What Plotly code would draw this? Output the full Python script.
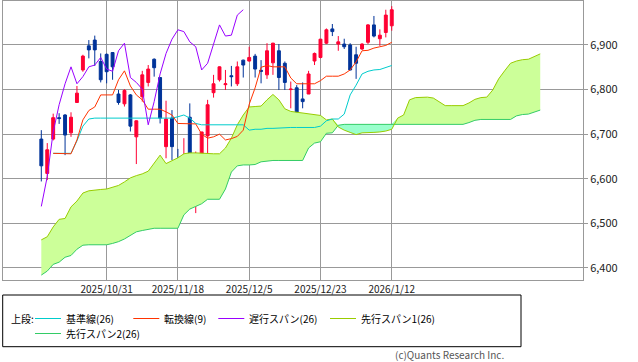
import plotly.graph_objects as go

# ---- data ----
dates = [
    "2025-10-16", "2025-10-17", "2025-10-20", "2025-10-21", "2025-10-22", "2025-10-23", "2025-10-24",
    "2025-10-27", "2025-10-28", "2025-10-29", "2025-10-30", "2025-10-31",
    "2025-11-03", "2025-11-04", "2025-11-05", "2025-11-06", "2025-11-07", "2025-11-10", "2025-11-11",
    "2025-11-12", "2025-11-13", "2025-11-14", "2025-11-17", "2025-11-18", "2025-11-19", "2025-11-20",
    "2025-11-21", "2025-11-24", "2025-11-25", "2025-11-26", "2025-11-28",
    "2025-12-01", "2025-12-02", "2025-12-03", "2025-12-04", "2025-12-05", "2025-12-08", "2025-12-09",
    "2025-12-10", "2025-12-11", "2025-12-12", "2025-12-15", "2025-12-16", "2025-12-17", "2025-12-18",
    "2025-12-19", "2025-12-22", "2025-12-23", "2025-12-24", "2025-12-26", "2025-12-29", "2025-12-30",
    "2025-12-31", "2026-01-02", "2026-01-05", "2026-01-06", "2026-01-07", "2026-01-08", "2026-01-09",
    "2026-01-12",
]
open_ = [6689, 6612, 6689, 6737, 6743, 6703, 6771, 6844, 6898, 6911, 6863, 6879, 6883, 6790, 6768,
         6788, 6694, 6784, 6816, 6868, 6827, 6672, 6736, 6642, 6625, 6738, 6555, 6635, 6696, 6793,
         6822, 6811, 6831, 6813, 6866, 6864, 6875, 6843, 6833, 6860, 6887, 6859, 6800, 6804, 6779,
         6790, 6864, 6872, 6904, 6936, 6902, 6902, 6900, 6878, 6891, 6906, 6945, 6914, 6928, 6943]
high = [6709, 6680, 6746, 6747, 6745, 6749, 6808, 6878, 6911, 6921, 6881, 6881, 6884, 6799, 6801,
        6790, 6731, 6842, 6855, 6870, 6828, 6775, 6754, 6667, 6691, 6769, 6661, 6705, 6777, 6833,
        6852, 6844, 6853, 6863, 6867, 6896, 6880, 6866, 6904, 6905, 6902, 6863, 6818, 6810, 6816,
        6842, 6883, 6913, 6937, 6947, 6920, 6914, 6904, 6896, 6904, 6947, 6965, 6935, 6979, 6987]
low = [6594, 6597, 6686, 6723, 6653, 6694, 6770, 6840, 6870, 6853, 6816, 6814, 6822, 6766, 6762,
       6706, 6633, 6773, 6807, 6829, 6724, 6646, 6642, 6573, 6603, 6532, 6523, 6629, 6657, 6782,
       6818, 6799, 6807, 6808, 6827, 6863, 6827, 6814, 6824, 6833, 6799, 6799, 6758, 6718, 6758,
       6790, 6855, 6870, 6902, 6920, 6887, 6891, 6843, 6824, 6889, 6902, 6917, 6898, 6917, 6932]
close = [6629, 6665, 6737, 6735, 6698, 6738, 6792, 6875, 6889, 6889, 6822, 6840, 6851, 6771, 6798,
         6718, 6730, 6833, 6846, 6849, 6736, 6734, 6672, 6616, 6642, 6538, 6605, 6705, 6766, 6813,
         6851, 6813, 6829, 6851, 6855, 6872, 6846, 6841, 6887, 6904, 6827, 6816, 6801, 6721, 6773,
         6835, 6881, 6913, 6934, 6930, 6907, 6896, 6844, 6859, 6902, 6945, 6920, 6922, 6967, 6979]

tenkan = [None, None, 6657, 6657, 6657, 6656, 6687, 6732, 6753, 6761, 6788, 6788, 6788, 6822, 6842,
          6808, 6788, 6777, 6756, 6756, 6756, 6750, 6743, 6724, 6724, 6724, 6723, 6700, 6691, 6694,
          6700, 6687, 6690, 6695, 6709, 6767, 6804, 6850, 6854, 6851, 6851, 6851, 6826, 6813, 6813,
          6813, 6813, 6820, 6830, 6830, 6830, 6835, 6844, 6862, 6887, 6888, 6893, 6896, 6899, 6906]
kijun = [None, None, 6657, 6657, 6657, 6657, 6685, 6718, 6734, 6736, 6736, 6736, 6736, 6736, 6736,
         6736, 6736, 6736, 6736, 6736, 6736, 6736, 6736, 6739, 6743, 6736, 6724, 6721, 6721, 6721,
         6721, 6721, 6721, 6721, 6721, 6709, 6711, 6711, 6713, 6713, 6714, 6714, 6715, 6715, 6715,
         6715, 6715, 6718, 6730, 6734, 6734, 6745, 6788, 6810, 6835, 6841, 6844, 6845, 6850, 6854]
chikou = [6538, 6605, 6705, 6766, 6813, 6851, 6813, 6829, 6851, 6855, 6872, 6846, 6841, 6887, 6904,
          6827, 6816, 6801, 6721, 6773, 6835, 6881, 6913, 6934, 6930, 6907, 6896, 6844, 6859, 6902,
          6945, 6920, 6922, 6967, 6979]
senkou1 = [6463, 6470, 6492, 6509, 6511, 6537, 6550, 6568, 6573, 6575, 6576, 6577, 6581, 6585, 6593,
           6602, 6607, 6611, 6617, 6635, 6653, 6634, 6641, 6647, 6656, 6658, 6658, 6657, 6656, 6656,
           6656, 6669, 6691, 6721, 6743, 6761, 6762, 6763, 6777, 6789, 6777, 6757, 6751, 6749, 6747,
           6745, 6744, 6742, 6732, 6734, 6716, 6709, 6704, 6699, 6703, 6703, 6704, 6705, 6707, 6711,
           6736, 6743, 6777, 6782, 6783, 6783, 6781, 6772, 6764, 6764, 6764, 6764, 6770, 6778, 6782,
           6783, 6799, 6824, 6842, 6859, 6864, 6867, 6868, 6874, 6880]
senkou2 = [6384, 6393, 6408, 6413, 6424, 6428, 6442, 6451, 6452, 6452, 6452, 6452, 6455, 6459, 6465,
           6474, 6481, 6484, 6486, 6489, 6489, 6489, 6489, 6489, 6519, 6532, 6538, 6544, 6554, 6554,
           6554, 6577, 6615, 6629, 6631, 6631, 6632, 6638, 6640, 6641, 6641, 6641, 6641, 6641, 6641,
           6669, 6680, 6683, 6702, 6703, 6720, 6722, 6722, 6722, 6722, 6722, 6722, 6722, 6722, 6722,
           6722, 6722, 6722, 6722, 6722, 6722, 6722, 6722, 6722, 6722, 6722, 6722, 6726, 6731, 6733,
           6733, 6733, 6733, 6733, 6733, 6741, 6744, 6745, 6750, 6754]

tick_dates = ["2025-10-31", "2025-11-18", "2025-12-05", "2025-12-23", "2026-01-12"]
tick_labels = ["2025/10/31", "2025/11/18", "2025/12/5", "2025/12/23", "2026/1/12"]
y_ticks = [6400, 6500, 6600, 6700, 6800, 6900]

legend_names = ["基準線(26)", "転換線(9)", "遅行スパン(26)", "先行スパン1(26)", "先行スパン2(26)"]

# ---- styles ----
RED = "#FF0033"
BLUE = "#003399"
C_KIJUN = "#00CCCC"
C_TENKAN = "#FF3300"
C_CHIKOU = "#9900FF"
C_SPAN1 = "#99CC00"
C_SPAN2 = "#33CC66"
FILL_POS = "#CCFF99"
FILL_NEG = "#99FFCC"
GRID = "#999999"
FONT = "Noto Sans CJK JP"

n = len(dates)
idx = list(range(n))
span_idx = list(range(len(senkou1)))
chikou_idx = list(range(len(chikou)))
upper = [max(a, b) for a, b in zip(senkou1, senkou2)]

fig = go.Figure()

# cloud fills
fig.add_trace(go.Scatter(x=span_idx, y=senkou2, mode="lines", line=dict(width=0), hoverinfo="skip"))
fig.add_trace(go.Scatter(x=span_idx, y=upper, mode="lines", line=dict(width=0), fill="tonexty",
                         fillcolor=FILL_POS, hoverinfo="skip"))
fig.add_trace(go.Scatter(x=span_idx, y=senkou1, mode="lines", line=dict(width=0), hoverinfo="skip"))
fig.add_trace(go.Scatter(x=span_idx, y=upper, mode="lines", line=dict(width=0), fill="tonexty",
                         fillcolor=FILL_NEG, hoverinfo="skip"))

# lines
fig.add_trace(go.Scatter(x=span_idx, y=senkou2, mode="lines", line=dict(color=C_SPAN2, width=1)))
fig.add_trace(go.Scatter(x=span_idx, y=senkou1, mode="lines", line=dict(color=C_SPAN1, width=1)))
fig.add_trace(go.Scatter(x=idx, y=kijun, mode="lines", line=dict(color=C_KIJUN, width=1)))
fig.add_trace(go.Scatter(x=idx, y=tenkan, mode="lines", line=dict(color=C_TENKAN, width=1)))
fig.add_trace(go.Scatter(x=chikou_idx, y=chikou, mode="lines", line=dict(color=C_CHIKOU, width=1)))

# candles
fig.add_trace(go.Candlestick(
    x=idx, open=open_, high=high, low=low, close=close,
    increasing=dict(line=dict(color=RED, width=1), fillcolor=RED),
    decreasing=dict(line=dict(color=BLUE, width=1), fillcolor=BLUE),
    whiskerwidth=0,
))

tick_pos = [dates.index(d) for d in tick_dates]

fig.update_layout(
    width=638, height=362,
    margin=dict(l=3, r=55, t=1, b=82),
    paper_bgcolor="white", plot_bgcolor="white",
    showlegend=False, hovermode=False,
    font=dict(family=FONT, size=11, color="#222222"),
    xaxis=dict(
        range=[-6.45, 91.2], rangeslider=dict(visible=False),
        tickvals=tick_pos, ticktext=tick_labels,
        showgrid=True, gridcolor=GRID, gridwidth=1,
        showline=True, linecolor=GRID, mirror=True, linewidth=1,
        ticks="", tickfont=dict(size=10, color="#222222"), zeroline=False,
    ),
    yaxis=dict(
        range=[6373, 6998.6], side="right",
        tickvals=y_ticks, tickformat=",",
        showgrid=True, gridcolor=GRID, gridwidth=1,
        showline=True, linecolor=GRID, mirror=True, linewidth=1,
        ticks="outside", ticklen=4, tickcolor=GRID,
        tickfont=dict(size=11, color="#222222"), zeroline=False,
    ),
)

# ---- custom legend box ----
def px(x):
    return (x - 3) / 580.0

def py(y):
    return (280 - y) / 279.0

shapes = [dict(type="rect", xref="paper", yref="paper", x0=px(2.7), x1=px(521), y0=py(346.7), y1=py(295),
               line=dict(color="#000000", width=1))]
annotations = [dict(xref="paper", yref="paper", x=px(9), y=py(318.5), text="上段:", showarrow=False,
                    xanchor="left", yanchor="middle", font=dict(family=FONT, size=10, color="#000000"))]
items = [(35, 318.5, C_KIJUN), (133.3, 318.5, C_TENKAN), (218.3, 318.5, C_CHIKOU),
         (330, 318.5, C_SPAN1), (35, 333.5, C_SPAN2)]
for (lx, ly, col), name in zip(items, legend_names):
    shapes.append(dict(type="line", xref="paper", yref="paper", x0=px(lx), x1=px(lx + 26),
                       y0=py(ly), y1=py(ly), line=dict(color=col, width=1)))
    annotations.append(dict(xref="paper", yref="paper", x=px(lx + 29), y=py(ly), text=name,
                            showarrow=False, xanchor="left", yanchor="middle",
                            font=dict(family=FONT, size=10, color="#000000")))
annotations.append(dict(xref="paper", yref="paper", x=px(506), y=py(354.5), text="(c)Quants Research Inc.",
                        showarrow=False, xanchor="right", yanchor="middle",
                        font=dict(family=FONT, size=10, color="#555555")))

fig.update_layout(shapes=shapes, annotations=annotations)

fig.write_html("out.html", config={"displayModeBar": False},
               post_script="document.body.style.margin='0';document.body.style.padding='0';")
